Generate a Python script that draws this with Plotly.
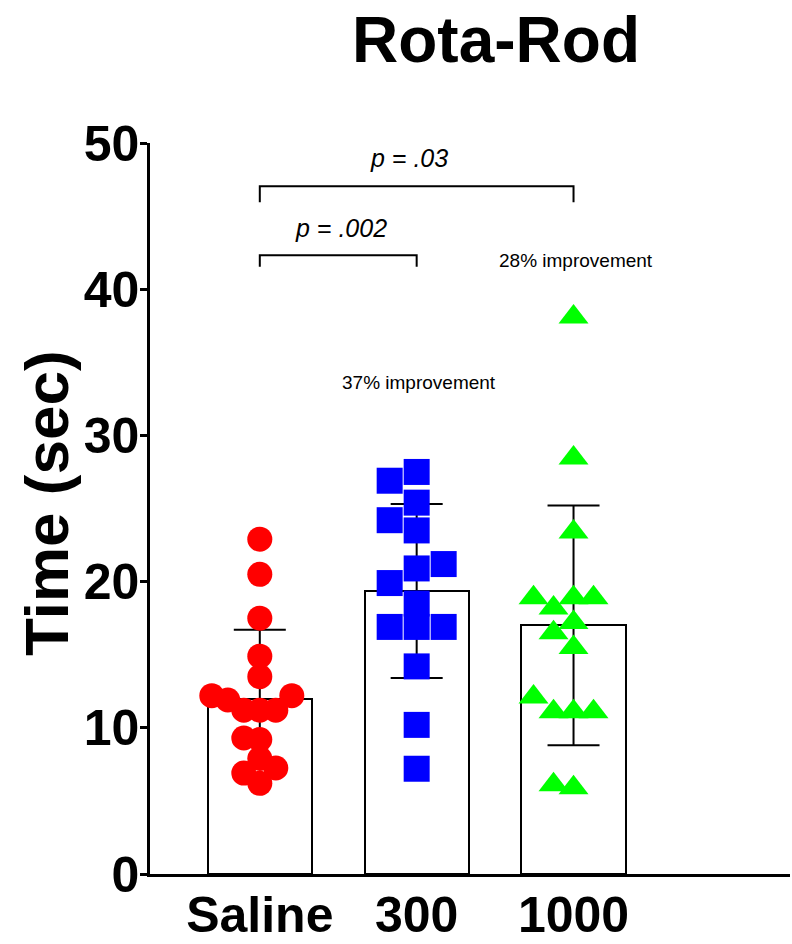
import math
import plotly.graph_objects as go

# ---------------- data ----------------
categories = ["Saline", "300", "1000"]
saline_values = [22.9, 20.5, 17.5, 14.9, 13.5, 11.9, 11.2, 11.2, 11.2, 12.2, 12.2,
                 9.2, 9.3, 7.9, 6.9, 7.25, 6.2]
dose300_values = [26.9, 27.5, 25.4, 24.2, 23.5, 21.2, 20.9, 19.9, 18.5,
                  16.9, 16.9, 16.9, 14.2, 10.2, 7.2]
dose1000_values = [38.1, 28.45, 23.4, 18.9, 18.9, 18.9, 18.2, 17.2, 16.5,
                   15.5, 12.1, 11.1, 11.1, 11.1, 6.1, 5.9]
group_means = [12.0, 19.35, 17.0]
group_sds = [4.7, 5.95, 8.2]

comparisons = [(0, 2), (0, 1)]
bracket_levels = [47.05, 42.33]
bracket_drops = [1.1, 0.8]
p_labels = ["p = .03", "p = .002"]
improvement_labels = ["37% improvement", "28% improvement"]

# ---------------- layout geometry ----------------
W, H = 792, 944
M_L, M_R, M_T, M_B = 150, 2, 143, 70
X_RANGE = [-0.70, 3.38]
Y_RANGE = [0, 50]
plot_w = W - M_L - M_R
plot_h = H - M_T - M_B
px_per_x = plot_w / (X_RANGE[1] - X_RANGE[0])
px_per_y = plot_h / (Y_RANGE[1] - Y_RANGE[0])

FONT = "Liberation Sans, Arial, Helvetica, sans-serif"


def swarm_offsets(values, step_px, min_dist_px):
    """Greedy beeswarm: returns x offsets (data units) so markers do not pile up."""
    order = sorted(range(len(values)), key=lambda i: values[i])
    placed = []
    offs = [0.0] * len(values)
    cands = [0]
    for n in range(1, 30):
        cands += [-n, n]
    for i in order:
        y = values[i] * px_per_y
        dx = 0.0
        for c in cands:
            dx = c * step_px
            if all(math.hypot(dx - px, y - py) >= min_dist_px for px, py in placed):
                break
        placed.append((dx, y))
        offs[i] = dx / px_per_x
    return offs


groups = [
    (saline_values, "#FF0000", "circle", 25, 16, 16),
    (dose300_values, "#0000FF", "square", 26, 27, 22),
    (dose1000_values, "#00FF00", "triangle-up", 26, 20, 18),
]

fig = go.Figure()

# bars with SD error bars
fig.add_trace(go.Bar(
    x=list(range(len(categories))), y=group_means, width=0.665,
    marker=dict(color="white", line=dict(color="black", width=2)),
    error_y=dict(type="data", array=group_sds, visible=True,
                 color="black", thickness=2, width=26),
    showlegend=False, hoverinfo="skip",
))

# individual points
for gi, (vals, col, sym, size, step, mind) in enumerate(groups):
    offs = swarm_offsets(vals, step, mind)
    fig.add_trace(go.Scatter(
        x=[gi + o for o in offs], y=vals, mode="markers",
        marker=dict(color=col, symbol=sym, size=size, line=dict(width=0)),
        showlegend=False, cliponaxis=False,
    ))

# significance brackets
bx, by = [], []
for (a, b), lvl, d in zip(comparisons, bracket_levels, bracket_drops):
    bx += [a, a, b, b, None]
    by += [lvl - d, lvl, lvl, lvl - d, None]
fig.add_trace(go.Scatter(x=bx, y=by, mode="lines",
                         line=dict(color="black", width=2),
                         showlegend=False, hoverinfo="skip"))

annotations = []
for txt, xx, yy in [(p_labels[0], 0.95, 48.97), (p_labels[1], 0.518, 44.19)]:
    annotations.append(dict(x=xx, y=yy, text=txt, xref="x", yref="y",
                            showarrow=False, xanchor="center", yanchor="middle",
                            font=dict(family=FONT, size=25, color="black",
                                      style="italic")))
for txt, xx, yy in [(improvement_labels[0], 1.015, 33.65),
                    (improvement_labels[1], 2.015, 41.93)]:
    annotations.append(dict(x=xx, y=yy, text=txt, xref="x", yref="y",
                            showarrow=False, xanchor="center", yanchor="middle",
                            font=dict(family=FONT, size=19, color="black")))
# y-axis title
annotations.append(dict(x=(46 - M_L) / plot_w, y=(874 - 503) / plot_h,
                        xref="paper", yref="paper", text="<b>Time (sec)</b>",
                        textangle=-90, showarrow=False,
                        xanchor="center", yanchor="middle",
                        font=dict(family=FONT, size=62, color="black")))

fig.update_layout(
    width=W, height=H,
    margin=dict(l=M_L, r=M_R, t=M_T, b=M_B, pad=0, autoexpand=False),
    paper_bgcolor="white", plot_bgcolor="white",
    font=dict(family=FONT, color="black"),
    title=dict(text="<b>Rota-Rod</b>", x=496 / W, xref="container",
               xanchor="center", y=1 - 40 / H, yref="container",
               yanchor="middle",
               font=dict(family=FONT, size=64, color="black")),
    annotations=annotations,
    bargap=0,
)

fig.update_xaxes(
    range=X_RANGE, tickmode="array", tickvals=list(range(len(categories))),
    ticktext=["<b>%s</b>" % c for c in categories],
    tickfont=dict(family=FONT, size=50, color="black"),
    showline=True, linecolor="black", linewidth=3, ticks="",
    ticklabelstandoff=-5, automargin=False,
    showgrid=False, zeroline=False, fixedrange=True,
)
fig.update_yaxes(
    range=Y_RANGE, tickmode="array", tickvals=[0, 10, 20, 30, 40, 50],
    ticktext=["<b>%d</b>" % v for v in [0, 10, 20, 30, 40, 50]],
    tickfont=dict(family=FONT, size=50, color="black"),
    showline=True, linecolor="black", linewidth=2.5,
    ticks="outside", ticklen=7, tickwidth=2.5, tickcolor="black",
    ticklabelstandoff=-9, automargin=False,
    showgrid=False, zeroline=False, fixedrange=True,
)

fig.write_html("out.html",
               config={"displayModeBar": False},
               post_script="document.body.style.margin='0';"
                           "document.body.style.overflow='hidden';")
